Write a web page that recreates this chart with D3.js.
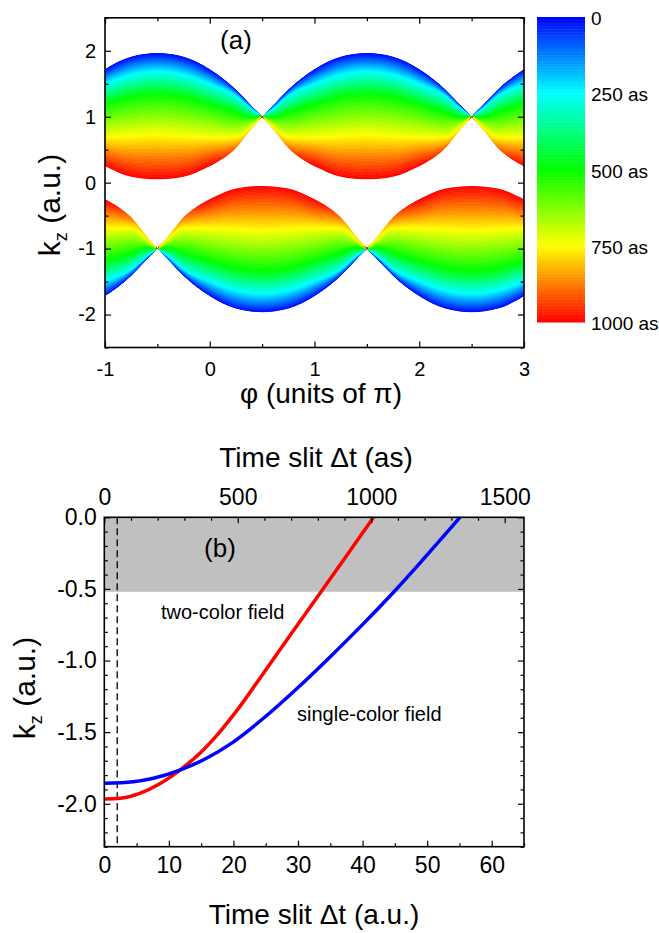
<!DOCTYPE html>
<html>
<head>
<meta charset="utf-8">
<script src="https://cdn.jsdelivr.net/npm/d3@7"></script>
<style>
  body { margin: 0; background: #fff; }
  text { font-family: "Liberation Sans", Arial, Helvetica, sans-serif; fill: #000; }
  .tick line { stroke: #000; stroke-width: 1.2; }
</style>
</head>
<body>
<div id="chart"></div>
<script>
// ---- panel (a): one upper lobe, iso-time lines read at distances from the lobe centre (units of pi)
var lobeOffsets = [0, 0.25, 0.5, 0.75, 0.9, 1];
var isoTimes = [0, 250, 500, 750, 1000];
var iso0 = [1.965, 1.91, 1.72, 1.41, 1.16, 1.0];
var iso250 = [1.68, 1.63, 1.49, 1.31, 1.11, 1.0];
var iso500 = [1.33, 1.29, 1.18, 1.06, 0.98, 1.0];
var iso750 = [0.72, 0.70, 0.68, 0.68, 0.85, 1.0];
var iso1000 = [0.05, 0.09, 0.25, 0.40, 0.55, 1.0];
var lobeBottom = [0.05, 0.09, 0.25, 0.53, 0.82, 1.0];
var upperCentres = [-0.5, 1.5, 3.5];
var lowerCentres = [-1.5, 0.5, 2.5];
var colourbarLabels = ["0", "250 as", "500 as", "750 as", "1000 as"];

// ---- panel (b): k_z vs time slit (a.u.)
var twoColorDt = [0, 2.4, 5.5, 8.6, 11.7, 14.8, 17.7, 20.6, 24.6, 29.8, 33.9, 37.6, 41.7];
var twoColorKz = [-1.967, -1.962, -1.927, -1.860, -1.765, -1.647, -1.508, -1.345, -1.092, -0.759, -0.499, -0.264, 0];
var singleColorDt = [0, 4.5, 7.6, 11.7, 15.9, 19.5, 24.6, 29.8, 35, 40.1, 44.9, 49.4, 55.1];
var singleColorKz = [-1.857, -1.846, -1.822, -1.765, -1.681, -1.584, -1.405, -1.197, -0.973, -0.744, -0.518, -0.293, 0];
var slitDt = 2.0;
var shadeKz = [0, -0.52];
var asPerAu = 24.189;

var W = 659, H = 933;
var svg = d3.select("#chart").append("svg")
  .attr("width", W)
  .attr("height", H);
var defs = svg.append("defs");

var colour = d3.scaleLinear()
  .domain(isoTimes)
  .range(["#0000ff", "#00ffff", "#00ff00", "#ffff00", "#ff0000"]);

// plain hyphen for negative tick labels
function fmt(spec) {
  var f = d3.format(spec);
  return function(v) { return f(v).replace("\u2212", "-"); };
}

// ================= panel (a) =================
var xA = d3.scaleLinear().domain([-1, 3]).range([105, 524]);
var yA = d3.scaleLinear().domain([-2.5, 2.5]).range([347.5, 17.8]);

defs.append("clipPath").attr("id", "clipA")
  .append("rect")
  .attr("x", xA(-1)).attr("y", yA(2.5))
  .attr("width", xA(3) - xA(-1)).attr("height", yA(-2.5) - yA(2.5));

function mirror(arr) { return arr.slice(1).reverse().concat(arr); }
var offsetsFull = lobeOffsets.slice(1).reverse().map(function(d) { return -d; }).concat(lobeOffsets);
var isoFull = [iso0, iso250, iso500, iso750, iso1000].map(mirror);
var bottomFull = mirror(lobeBottom);

var lobes = upperCentres.map(function(c) { return {centre: c, sign: 1}; })
  .concat(lowerCentres.map(function(c) { return {centre: c, sign: -1}; }));

var bandArea = d3.area()
  .x(function(p) { return xA(p.phi); })
  .y0(function(p) { return yA(p.k0); })
  .y1(function(p) { return yA(p.k1); })
  .curve(d3.curveMonotoneX);

var plotA = svg.append("g").attr("clip-path", "url(#clipA)");
var nSub = 30;

lobes.forEach(function(lobe, n) {
  var s = lobe.sign;
  var outline = offsetsFull.map(function(d, m) {
    return {phi: lobe.centre + d, k0: s * bottomFull[m], k1: s * isoFull[0][m]};
  });
  defs.append("clipPath").attr("id", "lobe" + n)
    .append("path").attr("d", bandArea(outline));

  var g = plotA.append("g").attr("clip-path", "url(#lobe" + n + ")");
  for (var i = 0; i < isoTimes.length - 1; i++) {
    for (var j = 0; j < nSub; j++) {
      var f0 = j / nSub, f1 = (j + 1) / nSub;
      var pts = offsetsFull.map(function(d, m) {
        var a = isoFull[i][m], b = isoFull[i + 1][m];
        return {phi: lobe.centre + d, k0: s * (a + (b - a) * f0), k1: s * (a + (b - a) * f1)};
      });
      var t = isoTimes[i] + (isoTimes[i + 1] - isoTimes[i]) * (j + 0.5) / nSub;
      g.append("path")
        .attr("d", bandArea(pts))
        .attr("fill", colour(t))
        .attr("stroke", colour(t))
        .attr("stroke-width", 0.7);
    }
  }
});

// ticks (inward, all four sides)
function ticksA(axis, tr, vals, size, labels) {
  var g = svg.append("g")
    .attr("transform", tr)
    .call(axis.tickValues(vals).tickSize(size)
      .tickFormat(labels ? fmt(labels) : ""));
  g.select(".domain").remove();
  return g;
}
var intPhi = [-1, 0, 1, 2, 3], halfPhi = [-0.5, 0.5, 1.5, 2.5];
var intK = [-2, -1, 0, 1, 2], halfK = [-2.5, -1.5, -0.5, 0.5, 1.5, 2.5];

var bxA = ticksA(d3.axisBottom(xA).tickPadding(14.3), "translate(0," + yA(-2.5) + ")", intPhi, -6, "d");
bxA.selectAll("text").style("font-size", "20px");
ticksA(d3.axisBottom(xA), "translate(0," + yA(-2.5) + ")", halfPhi, -3.5, null);
ticksA(d3.axisTop(xA), "translate(0," + yA(2.5) + ")", intPhi, -6, null);
ticksA(d3.axisTop(xA), "translate(0," + yA(2.5) + ")", halfPhi, -3.5, null);
var lyA = ticksA(d3.axisLeft(yA).tickPadding(9), "translate(" + xA(-1) + ",0)", intK, -6, "d");
lyA.selectAll("text").style("font-size", "20px");
ticksA(d3.axisLeft(yA), "translate(" + xA(-1) + ",0)", halfK, -3.5, null);
ticksA(d3.axisRight(yA), "translate(" + xA(3) + ",0)", intK, -6, null);
ticksA(d3.axisRight(yA), "translate(" + xA(3) + ",0)", halfK, -3.5, null);

svg.append("rect")
  .attr("x", xA(-1)).attr("y", yA(2.5))
  .attr("width", xA(3) - xA(-1)).attr("height", yA(-2.5) - yA(2.5))
  .attr("fill", "none").attr("stroke", "#000").attr("stroke-width", 1.6);

svg.append("text")
  .attr("x", 236).attr("y", 49)
  .attr("text-anchor", "middle")
  .style("font-size", "26px")
  .text("(a)");

svg.append("text")
  .attr("x", 321).attr("y", 403)
  .attr("text-anchor", "middle")
  .style("font-size", "28px")
  .text("\u03c6 (units of \u03c0)");

function kzTitle(x, y) {
  var t = svg.append("text")
    .attr("transform", "translate(" + x + "," + y + ") rotate(-90)")
    .attr("text-anchor", "middle")
    .style("font-size", "30px");
  t.append("tspan").text("k");
  t.append("tspan").attr("dy", 7).style("font-size", "18px").text("z");
  t.append("tspan").attr("dy", -7).text(" (a.u.)");
}
kzTitle(60, 205);

// colour bar
var cb = d3.scaleLinear().domain([0, 1000]).range([17, 322]);
svg.append("g").selectAll("rect")
  .data(d3.range(0, 1000, 5))
  .join("rect")
  .attr("x", 537).attr("width", 48)
  .attr("y", function(d) { return cb(d); })
  .attr("height", cb(5) - cb(0) + 0.5)
  .attr("fill", function(d) { return colour(d + 2.5); });
svg.append("g").selectAll("text")
  .data(colourbarLabels)
  .join("text")
  .attr("x", 591)
  .attr("y", function(d, i) { return cb(isoTimes[i]) + 8; })
  .style("font-size", "19px")
  .text(function(d) { return d; });

// ================= panel (b) =================
var xB = d3.scaleLinear().domain([0, 65]).range([104.3, 524]);
var xAs = d3.scaleLinear().domain([0, 65 * asPerAu]).range([104.3, 524]);
var yB = d3.scaleLinear().domain([-2.3, 0]).range([846.7, 517.3]);

svg.append("rect")
  .attr("x", xB(0)).attr("y", yB(shadeKz[0]))
  .attr("width", xB(65) - xB(0)).attr("height", yB(shadeKz[1]) - yB(shadeKz[0]))
  .attr("fill", "#c0c0c0");

svg.append("line")
  .attr("x1", xB(slitDt)).attr("x2", xB(slitDt))
  .attr("y1", yB(0)).attr("y2", yB(-2.3))
  .attr("stroke", "#000").attr("stroke-width", 1.3)
  .attr("stroke-dasharray", "7,4");

var line = d3.line()
  .x(function(d) { return xB(d[0]); })
  .y(function(d) { return yB(d[1]); })
  .curve(d3.curveMonotoneX);

svg.append("path")
  .attr("d", line(d3.zip(twoColorDt, twoColorKz)))
  .attr("fill", "none").attr("stroke", "#ff0000").attr("stroke-width", 3.5);
svg.append("path")
  .attr("d", line(d3.zip(singleColorDt, singleColorKz)))
  .attr("fill", "none").attr("stroke", "#0000ff").attr("stroke-width", 3.5);

var bxB = ticksA(d3.axisBottom(xB).tickPadding(10), "translate(0," + yB(-2.3) + ")", d3.range(0, 61, 10), -6, "d");
bxB.selectAll("text").style("font-size", "23px");
ticksA(d3.axisBottom(xB), "translate(0," + yB(-2.3) + ")", d3.range(5, 66, 10), -3.5, null);
var txB = ticksA(d3.axisTop(xAs).tickPadding(12.3), "translate(0," + yB(0) + ")", [0, 500, 1000, 1500], -6, "d");
txB.selectAll("text").style("font-size", "23px");
ticksA(d3.axisTop(xAs), "translate(0," + yB(0) + ")", d3.range(100, 1600, 100).filter(function(v) { return v % 500; }), -3.5, null);
var lyB = ticksA(d3.axisLeft(yB).tickPadding(7.5), "translate(" + xB(0) + ",0)", [-2, -1.5, -1, -0.5, 0], -6, ".1f");
lyB.selectAll("text").style("font-size", "23px");
var minorK = d3.range(-2.3, 0.001, 0.1).filter(function(v) { return Math.abs(Math.round(v * 2) - v * 2) > 0.01; });
ticksA(d3.axisLeft(yB), "translate(" + xB(0) + ",0)", minorK, -3.5, null);
ticksA(d3.axisRight(yB), "translate(" + xB(65) + ",0)", [-2, -1.5, -1, -0.5, 0], -6, null);
ticksA(d3.axisRight(yB), "translate(" + xB(65) + ",0)", minorK, -3.5, null);
svg.selectAll(".tick text").attr("fill", "#000");

svg.append("rect")
  .attr("x", xB(0)).attr("y", yB(0))
  .attr("width", xB(65) - xB(0)).attr("height", yB(-2.3) - yB(0))
  .attr("fill", "none").attr("stroke", "#000").attr("stroke-width", 1.6);

svg.append("text")
  .attr("x", 220).attr("y", 557)
  .attr("text-anchor", "middle")
  .style("font-size", "26px")
  .text("(b)");
svg.append("text")
  .attr("x", 161).attr("y", 619)
  .style("font-size", "20px")
  .text("two-color field");
svg.append("text")
  .attr("x", 297).attr("y", 721)
  .style("font-size", "20px")
  .text("single-color field");

svg.append("text")
  .attr("x", 316).attr("y", 467)
  .attr("text-anchor", "middle")
  .style("font-size", "28px")
  .text("Time slit \u0394t (as)");
svg.append("text")
  .attr("x", 314).attr("y", 924)
  .attr("text-anchor", "middle")
  .style("font-size", "28px")
  .text("Time slit \u0394t (a.u.)");
kzTitle(35, 688);
</script>
</body>
</html>
